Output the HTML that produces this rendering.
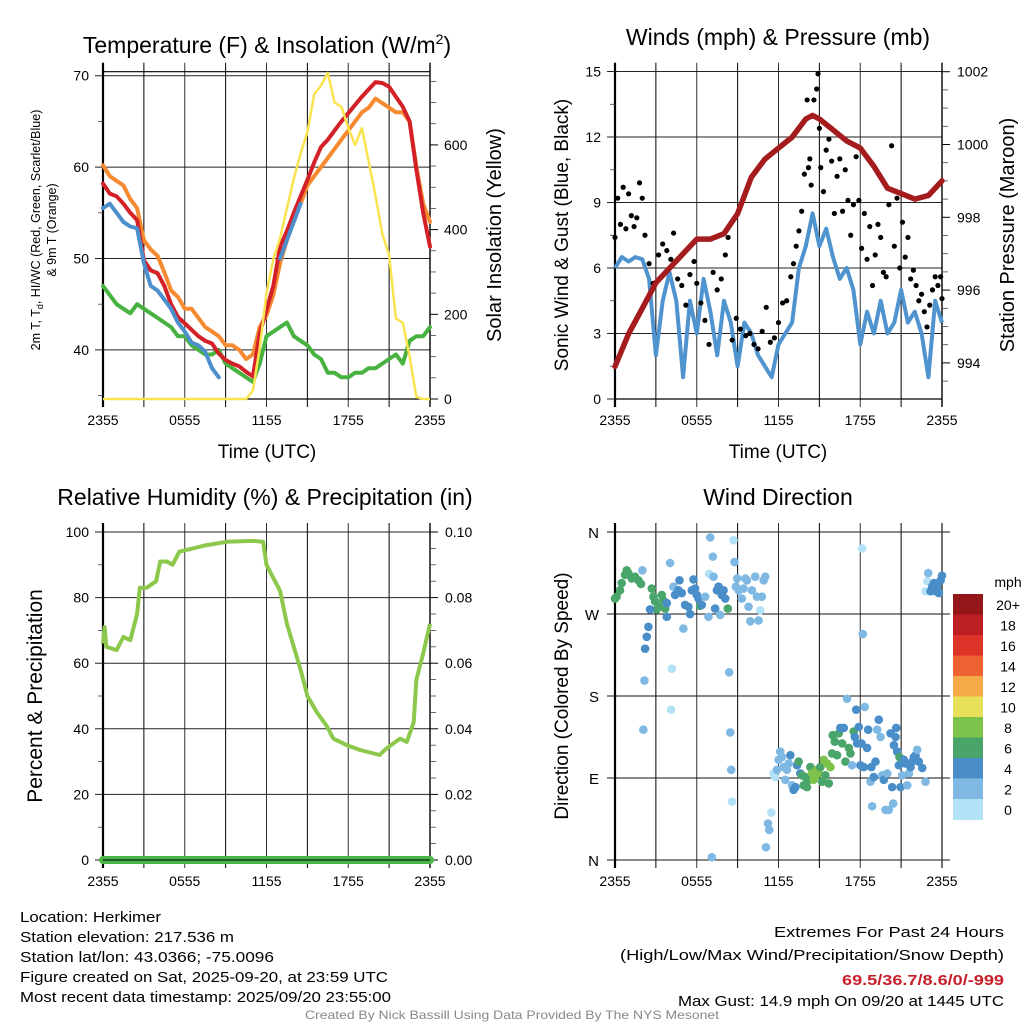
<!DOCTYPE html>
<html><head><meta charset="utf-8"><style>
html,body{margin:0;padding:0;background:#fff;}
svg{display:block;font-family:"Liberation Sans",sans-serif;}
</style></head><body>
<svg id="fig" width="1024" height="1024" viewBox="0 0 1024 1024" xmlns="http://www.w3.org/2000/svg">
<rect width="1024" height="1024" fill="#fff"/>
<g id="p1"></g>
<g id="p2"></g>
<g id="p3"></g>
<g id="p4"></g>
<g font-family="Liberation Sans Narrow, Liberation Sans, sans-serif" font-size="15" fill="#000">
<text x="20" y="922" textLength="141" lengthAdjust="spacingAndGlyphs">Location: Herkimer</text>
<text x="20" y="942" textLength="214" lengthAdjust="spacingAndGlyphs">Station elevation: 217.536 m</text>
<text x="20" y="962" textLength="254" lengthAdjust="spacingAndGlyphs">Station lat/lon: 43.0366; -75.0096</text>
<text x="20" y="982" textLength="368" lengthAdjust="spacingAndGlyphs">Figure created on Sat, 2025-09-20, at 23:59 UTC</text>
<text x="20" y="1002" textLength="371" lengthAdjust="spacingAndGlyphs">Most recent data timestamp: 2025/09/20 23:55:00</text>
</g>
<g font-family="Liberation Sans Narrow, Liberation Sans, sans-serif" font-size="15" text-anchor="end">
<text x="1004" y="937" textLength="230" lengthAdjust="spacingAndGlyphs">Extremes For Past 24 Hours</text>
<text x="1004" y="960" textLength="384" lengthAdjust="spacingAndGlyphs">(High/Low/Max Wind/Precipitation/Snow Depth)</text>
<text x="1004" y="985" fill="#c8202a" font-weight="bold" textLength="162" lengthAdjust="spacingAndGlyphs">69.5/36.7/8.6/0/-999</text>
<text x="1004" y="1006" textLength="326" lengthAdjust="spacingAndGlyphs">Max Gust: 14.9 mph On 09/20 at 1445 UTC</text>
</g>
<text x="512" y="1019" text-anchor="middle" font-family="Liberation Sans Narrow, Liberation Sans, sans-serif" font-size="12" fill="#888" textLength="414" lengthAdjust="spacingAndGlyphs">Created By Nick Bassill Using Data Provided By The NYS Mesonet</text>
</svg>
<script>
// ---------- DATA ----------
const xTickLabels = ["2355","0555","1155","1755","2355"];
const halfHours = [0,0.5,1,1.5,2,2.5,3,3.5,4,4.5,5,5.5,6,6.5,7,7.5,8,8.5,9,9.5,10,10.5,11,11.5,12,12.5,13,13.5,14,14.5,15,15.5,16,16.5,17,17.5,18,18.5,19,19.5,20,20.5,21,21.5,22,22.5,23,23.5,24];
const temp2m = [58.2,57.1,56.8,56,55,54.2,49.8,48.7,48.4,47,45,43.6,42.9,42.2,41.5,41,40.7,39.6,38.9,38.5,38.2,37.6,37.1,41.8,44.4,47,51.3,53,55,56.8,58.6,60.5,62.2,63,64,65,65.9,66.8,67.7,68.5,69.3,69.2,68.8,67.7,66.6,65,59.7,55,51.3];
const temp9m = [60.2,59,58.5,58,56.5,55.5,52,51,50.3,48.5,46.5,45.8,44.5,44.5,43.5,42.5,42,41.5,40.5,40.5,40,39,39.5,42.5,43.8,46,49.5,52,54.5,56,58,59,60,61,62,63,64,65,66,66.5,67.5,67,66.5,66,66,65,60,56,54];
const windChill = [55.5,56,55,54,53.5,53.3,49.5,47,46.5,45.5,44.5,43,42,40.8,40.5,39.8,38,37,null,37,null,null,35.5,null,null,null,50,52,54,56,null,null,null,null,null,null,null,null,null,null,null,null,null,null,null,null,null,null,null];
const dewPoint = [47,46,45,44.5,44,45,44.5,44,43.5,43,42.5,41.5,41.5,40.5,40,39.5,39.5,40,38.5,38,37.5,37,36.5,38.5,41.5,42,42.5,43,41.5,41,40.5,39.5,39,37.5,37.5,37,37,37.5,37.5,38,38,38.5,39,39.5,38.5,41,41.5,41.5,42.5];
const solar = [0,0,0,0,0,0,0,0,0,0,0,0,0,0,0,0,0,0,0,0,0,0,20,120,250,330,380,450,520,580,630,720,740,770,700,690,640,600,640,560,480,390,340,190,180,100,5,0,0];
const tempTicks = [40,50,60,70];
const solarTicks = [0,200,400,600];

const windSpeed = [6.0,6.5,6.3,6.5,6.4,5.5,2.0,4.5,5.8,4.5,1.0,4.5,3.0,5.5,4.0,2.0,4.5,3.5,1.5,3.5,3.0,2.0,1.5,1.0,2.5,3.0,3.5,6.0,7.0,8.5,7.0,7.8,6.5,5.5,6.0,5.0,2.5,4.0,3.0,4.5,3.0,3.5,5.0,3.5,4.0,3.0,1.0,4.5,3.5];
const gustTimes = [0,0.2,0.4,0.6,0.8,1.0,1.2,1.4,1.6,1.8,2.0,2.2,2.5,2.8,3.2,3.5,3.8,4.1,4.3,4.6,4.9,5.2,5.5,5.8,6.0,6.3,6.6,6.9,7.2,7.5,7.8,8.1,8.3,8.6,8.9,9.2,9.6,9.9,10.2,10.5,10.8,11.1,11.4,11.7,12.0,12.3,12.6,12.9,13.1,13.3,13.5,13.7,13.9,14.1,14.2,14.3,14.4,14.6,14.8,14.9,15.0,15.1,15.3,15.5,15.7,15.9,16.1,16.3,16.5,16.7,16.9,17.1,17.3,17.5,17.7,17.9,18.1,18.3,18.5,18.7,18.9,19.1,19.3,19.5,19.7,19.9,20.1,20.3,20.5,20.7,20.9,21.1,21.3,21.5,21.7,21.9,22.1,22.3,22.5,22.7,22.9,23.1,23.3,23.5,23.7,23.9,24.0];
const gustSpeed = [7.4,9.2,8.0,9.7,7.8,9.4,8.4,7.9,8.3,9.9,9.2,7.5,6.2,5.3,6.6,7.1,6.8,6.4,7.6,5.5,5.2,4.3,5.7,6.3,5.3,4.4,3.6,2.5,5.8,5.0,5.5,6.6,7.4,2.7,3.7,3.2,2.9,3.0,2.5,2.3,3.1,4.2,2.6,2.8,3.5,4.4,4.5,5.6,6.2,7.0,7.7,8.6,10.3,13.7,10.6,11.0,9.8,13.7,14.2,14.9,12.4,10.6,9.5,11.4,11.9,10.9,8.5,10.2,11.0,8.6,10.5,9.1,7.5,8.9,11.1,9.1,6.9,8.5,6.4,7.9,5.2,6.6,8.0,7.4,5.8,5.6,8.9,11.6,7.0,9.2,6.0,8.1,6.5,7.4,5.5,5.9,5.2,4.5,4.8,4.0,3.3,4.3,5.0,5.6,5.2,5.6,4.6];
const pressHours = [0,1,2,3,4,5,6,7,8,9,10,11,12,13,14,14.5,15,16,17,18,19,20,21,22,23,24];
const pressure = [993.9,994.8,995.5,996.2,996.6,997.0,997.4,997.4,997.55,998.1,999.1,999.6,999.9,1000.2,1000.7,1000.8,1000.7,1000.4,1000.1,999.9,999.4,998.8,998.65,998.5,998.6,999.0];
const windTicks = [0,3,6,9,12,15];
const pressTicks = [994,996,998,1000,1002];

const rhHours = [0,0.12,0.25,1,1.5,2,2.5,2.7,3.2,3.9,4.2,4.7,5.1,5.6,6.6,7.6,9.1,11.0,11.75,12.0,13.0,13.5,14.0,14.5,15.0,15.7,16.4,16.9,17.9,18.9,20.3,20.8,21.8,22.3,22.8,23.0,23.5,24];
const rh = [66,71,65,64,68,67,75,83,83,85,91,91,90,94,95,96,97,97.3,97,90,82,72,65,58,50,45,41,37,35,33.5,32,34,37,36,42,55,63,72];
const precipHours = [0,24];
const precip = [0,0];
const rhTicks = [0,20,40,60,80,100];
const precipTicks = ["0.00","0.02","0.04","0.06","0.08","0.10"];

const dirHours = [0,0.12,0.37,0.49,0.74,0.86,0.98,1.23,1.47,1.72,1.91,2.01,2.7,2.82,2.94,3.06,3.19,3.43,3.55,3.68,2.57,2.45,2.33,2.21,2.16,2.08,4.04,4.17,4.12,3.8,3.8,4.29,4.41,4.66,4.73,4.9,5.02,5.15,5.39,5.51,5.64,5.76,5.88,6.0,6.13,6.25,6.37,6.62,6.86,6.91,6.99,7.11,7.18,7.23,7.35,7.48,7.6,7.72,7.84,7.97,8.09,8.28,8.38,8.46,8.53,8.58,8.7,8.77,8.87,8.97,9.07,9.31,9.44,9.56,9.68,9.8,9.93,10.05,10.29,10.42,10.54,10.66,10.78,10.91,11.03,11.08,11.23,11.32,11.47,11.64,11.76,11.89,12.01,12.13,12.25,12.38,12.5,12.62,12.75,12.87,12.99,13.11,13.24,13.36,13.48,13.6,13.73,13.85,13.97,14.09,14.22,14.34,14.46,14.58,14.71,14.83,14.95,15.07,15.2,15.32,15.44,15.56,15.69,15.81,15.93,15.98,16.13,16.3,16.42,16.54,16.67,16.79,16.91,17.03,17.16,17.28,17.4,17.52,17.6,17.7,17.77,17.89,18.01,18.09,18.14,18.19,18.26,18.33,18.5,18.58,18.75,18.82,18.87,18.99,19.12,19.24,19.36,19.49,19.61,19.73,19.85,19.98,20.1,20.22,20.34,20.42,20.47,20.59,20.64,20.71,20.83,20.88,20.96,21.08,21.2,21.32,21.45,21.57,21.69,21.81,21.94,22.06,22.18,22.3,22.55,22.79,22.79,22.92,22.99,23.16,23.28,23.41,23.53,23.65,23.77,23.9,24.0];
const dirDeg = [287,289,296,304,313,318,315,309,311,307,303,318,298,289,284,275,278,291,285,276,275,256,245,232,197,143,326,210,165,282,267,300,291,296,307,293,254,280,278,270,296,308,298,291,287,279,280,289,267,314,354,3,333,311,276,296,300,269,291,296,287,276,206,140,99,64,351,327,300,309,296,287,298,309,307,278,262,296,311,289,263,274,289,307,311,14,40,33,52,95,91,99,110,119,113,102,88,99,106,115,82,77,80,104,108,95,93,82,91,80,88,102,95,88,93,99,95,102,86,110,93,106,84,102,117,137,130,115,139,145,128,145,108,177,123,117,104,141,135,165,128,146,104,128,342,248,102,168,123,143,86,102,59,91,108,143,154,135,93,88,55,95,55,139,80,62,126,135,145,119,104,113,80,93,110,106,82,95,102,108,113,115,121,108,101,86,295,306,315,295,300,304,295,300,293,307,312];
const dirSpeed = [7,7,7,7,7,7,7,7,7,7,7,3,7,7,7,7,7,7,7,7,5,5,5,5,3,3,3,1,1,5,5,3,5,5,5,5,3,5,5,5,5,5,5,5,5,7,5,3,3,1,3,3,3,3,5,5,5,3,5,5,5,7,3,3,3,1,1,3,3,3,3,3,3,3,3,3,3,3,3,3,3,1,3,3,3,3,3,3,1,1,1,3,3,3,3,3,3,3,3,5,3,5,5,5,7,5,7,7,7,7,7,7,9,9,9,9,9,7,7,9,7,9,7,9,7,7,7,7,7,5,7,5,7,3,7,7,3,7,5,5,5,5,5,5,1,3,5,3,5,5,3,5,3,5,5,3,5,3,3,5,3,3,3,5,5,3,5,5,5,5,5,7,5,3,5,5,3,3,5,5,5,5,3,5,5,3,1,1,3,5,5,5,5,5,5,5,5];
const dirTickLabels = ["N","E","S","W","N"];
const speedBins = ["0","2","4","6","8","10","12","14","16","18","20+"];
const speedColors = ["#b3e2f7","#7fb9e3","#4a8ec9","#4aa56a","#7dc24a","#e6e05a","#f5a947","#ee6130","#dd3429","#bd1e24","#931619"];

// ---------- HELPERS ----------
const NS = "http://www.w3.org/2000/svg";
function mk(parent, tag, attrs, txt){
  const e = document.createElementNS(NS, tag);
  for (const k in attrs) e.setAttribute(k, attrs[k]);
  if (txt !== undefined) e.textContent = txt;
  parent.appendChild(e);
  return e;
}
function pathFrom(xsArr, ysArr, fx, fy){
  let d = "", pen = false;
  for (let i=0;i<xsArr.length;i++){
    const v = ysArr[i];
    if (v === null || v === undefined){ pen=false; continue; }
    d += (pen?"L":"M") + fx(xsArr[i]).toFixed(1) + "," + fy(v).toFixed(1);
    pen = true;
  }
  return d;
}
const W = 327, X0L = 103, X0R = 615;
function frame(g, x0, yTop, yBot, hTicks, fy){
  // vertical grid every 3 hours
  for (let h=0; h<=24; h+=3){
    const x = x0 + h*W/24;
    const l = mk(g,"line",{x1:x,x2:x,y1:yTop-9,y2:yBot+8,stroke:(h%6===0?"#333":"#000"),"stroke-width":1});
    
    
  }
  hTicks.forEach(v=>{
    const y = fy(v);
    const l = mk(g,"line",{x1:x0-8,x2:x0+W,y1:y,y2:y,stroke:"#222","stroke-width":1});
    
    
  });
  mk(g,"line",{x1:x0,x2:x0,y1:yTop-9,y2:yBot+8,stroke:"#000","stroke-width":2.2});
  mk(g,"line",{x1:x0+W,x2:x0+W,y1:yTop-9,y2:yBot+8,stroke:"#000","stroke-width":1.4});
  mk(g,"line",{x1:x0,x2:x0+W,y1:yBot,y2:yBot,stroke:"#000","stroke-width":1.2});
  xTickLabels.forEach((lab,i)=>{
    const t = mk(g,"text",{x:x0+i*6*W/24,y:yBot+26,"text-anchor":"middle","font-size":14},lab);
    
    
  });
}
function title(g, x, y, txt, size){
  const t = mk(g,"text",{x:x,y:y,"text-anchor":"middle","font-size":size||23});
  t.innerHTML = txt;
  
  
  return t;
}
function vlabel(g, x, y, txt, size){
  const t = mk(g,"text",{x:0,y:0,"text-anchor":"middle","font-size":size||19,transform:`translate(${x},${y}) rotate(-90)`});
  t.innerHTML = txt;
  
  
  return t;
}
function rightMinor(g, x0, vals, fy){
  vals.forEach(v=>{ mk(g,"line",{x1:x0+W,x2:x0+W+6,y1:fy(v),y2:fy(v),stroke:"#444","stroke-width":0.8}); });
}

// ---------- PANEL 1 ----------
(function(){
  const g = document.getElementById("p1");
  const fx = t => X0L + t*W/24;
  const fy = v => 75.7 + (70 - v)*9.14;
  const fs = v => 399 - v*0.4235;
  const yTop = 71.7, yBot = 399;
  frame(g, X0L, yTop, yBot, tempTicks, fy);
  mk(g,"line",{x1:X0L,x2:X0L+W,y1:yTop,y2:yTop,stroke:"#000","stroke-width":1.2});
  const minors=[]; for(let v=50; v<=750; v+=50) if (v%200) minors.push(v);
  rightMinor(g, X0L, minors, fs);
  solarTicks.forEach(v=>{
    mk(g,"line",{x1:X0L+W,x2:X0L+W+8,y1:fs(v),y2:fs(v),stroke:"#000","stroke-width":1});
    const t=mk(g,"text",{x:X0L+W+14,y:fs(v)+5,"font-size":14},String(v));
     
  });
  tempTicks.forEach(v=>{
    const t=mk(g,"text",{x:X0L-14,y:fy(v)+5,"text-anchor":"end","font-size":14},String(v));
     
  });
  [35,45,55,65].forEach(v=>mk(g,"line",{x1:X0L-5,x2:X0L,y1:fy(v),y2:fy(v),stroke:"#444","stroke-width":0.8}));
  const series = [["dewpoint-line",dewPoint,"#47b23f",4],["temp-9m-line",temp9m,"#f58a30",4],["temp-2m-line",temp2m,"#d42127",4],["windchill-line",windChill,"#4d8fcc",4]];
  series.forEach(s=>{
    const p = mk(g,"path",{d:pathFrom(halfHours,s[1],fx,fy),fill:"none",stroke:s[2],"stroke-width":s[3],"stroke-linejoin":"round","stroke-linecap":"round"});
    
    
  });
  const sp = mk(g,"path",{d:pathFrom(halfHours,solar,fx,fs),fill:"none",stroke:"#fbe34f","stroke-width":2.5,"stroke-linejoin":"round"});
  
  
  title(g, 267, 53, 'Temperature (F) &amp; Insolation (W/m<tspan font-size="14" dy="-9">2</tspan><tspan dy="9">)</tspan>', 23);
  mk(g,"text",{x:267,y:458,"text-anchor":"middle","font-size":19},"Time (UTC)");
  const yl = mk(g,"text",{x:0,y:0,"text-anchor":"middle","font-size":12.5,transform:"translate(40,230) rotate(-90)"});
  yl.innerHTML = '2m T, T<tspan font-size="9" dy="3">d</tspan><tspan dy="-3">, HI/WC (Red, Green, Scarlet/Blue)</tspan>';
   
  const yl2 = mk(g,"text",{x:0,y:0,"text-anchor":"middle","font-size":12.5,transform:"translate(56,230) rotate(-90)"},"& 9m T (Orange)");
   
  vlabel(g, 501, 235, "Solar Insolation (Yellow)", 20);
})();

// ---------- PANEL 2 ----------
(function(){
  const g = document.getElementById("p2");
  const fx = t => X0R + t*W/24;
  const fy = v => 399 - v*21.83;
  const fp = v => 71.7 + (1002 - v)*36.4;
  const yTop = 71.7, yBot = 399;
  frame(g, X0R, yTop, yBot, windTicks, fy);
  const minors=[]; for(let v=993.5; v<=1001.6; v+=0.5) if (Math.abs(v-Math.round(v))>0.1 || Math.round(v)%2) minors.push(v);
  rightMinor(g, X0R, minors, fp);
  pressTicks.forEach(v=>{
    mk(g,"line",{x1:X0R+W,x2:X0R+W+8,y1:fp(v),y2:fp(v),stroke:"#000","stroke-width":1});
    const t=mk(g,"text",{x:X0R+W+15,y:fp(v)+5,"font-size":14},String(v));
     
  });
  windTicks.forEach(v=>{
    const t=mk(g,"text",{x:X0R-14,y:fy(v)+5,"text-anchor":"end","font-size":14},String(v));
     
  });
  [1.5,4.5,7.5,10.5,13.5].forEach(v=>mk(g,"line",{x1:X0R-5,x2:X0R,y1:fy(v),y2:fy(v),stroke:"#444","stroke-width":0.8}));
  const wp = mk(g,"path",{d:pathFrom(halfHours,windSpeed,fx,fy),fill:"none",stroke:"#4f93cf","stroke-width":4,"stroke-linejoin":"round"});
  
  
  gustTimes.forEach((t,i)=>{
    const c = mk(g,"circle",{cx:fx(t),cy:fy(gustSpeed[i]),r:2.6,fill:"#000"});
    
    
  });
  const pp = mk(g,"path",{d:pathFrom(pressHours,pressure,fx,fp),fill:"none",stroke:"#a51c1f","stroke-width":5.5,"stroke-linejoin":"round","stroke-linecap":"round"});
  
  
  title(g, 778, 45, "Winds (mph) &amp; Pressure (mb)", 23);
  mk(g,"text",{x:778,y:458,"text-anchor":"middle","font-size":19},"Time (UTC)");
  vlabel(g, 568, 235, "Sonic Wind &amp; Gust (Blue, Black)", 19);
  vlabel(g, 1014, 235, "Station Pressure (Maroon)", 20);
})();

// ---------- PANEL 3 ----------
(function(){
  const g = document.getElementById("p3");
  const fx = t => X0L + t*W/24;
  const fy = v => 860 - v*3.28;
  const yTop = 532, yBot = 860;
  frame(g, X0L, yTop, yBot, rhTicks, fy);
  const minors=[]; for(let v=5; v<100; v+=5) if (v%20) minors.push(v);
  rightMinor(g, X0L, minors, fy);
  [10,30,50,70,90].forEach(v=>mk(g,"line",{x1:X0L-5,x2:X0L,y1:fy(v),y2:fy(v),stroke:"#444","stroke-width":0.8}));
  rhTicks.forEach((v,i)=>{
    mk(g,"line",{x1:X0L+W,x2:X0L+W+8,y1:fy(v),y2:fy(v),stroke:"#000","stroke-width":1});
    const t=mk(g,"text",{x:X0L-14,y:fy(v)+5,"text-anchor":"end","font-size":14},String(v));
     
    const r=mk(g,"text",{x:X0L+W+15,y:fy(v)+5,"font-size":14},precipTicks[i]);
     
  });
  const rp = mk(g,"path",{d:pathFrom(rhHours,rh,fx,fy),fill:"none",stroke:"#8cc84b","stroke-width":4,"stroke-linejoin":"round"});
  
  
  const fpr = v => 860 - v*3280;
  const pl = mk(g,"path",{d:pathFrom(precipHours,precip,fx,fpr),fill:"none",stroke:"#4ab548","stroke-width":8,"stroke-linecap":"round"});
  
  
  mk(g,"line",{x1:X0L,x2:X0L+W,y1:yBot,y2:yBot,stroke:"#000","stroke-width":1});
  title(g, 265, 505, "Relative Humidity (%) &amp; Precipitation (in)", 23);
  vlabel(g, 42, 696, "Percent &amp; Precipitation", 21);
})();

// ---------- PANEL 4 ----------
(function(){
  const g = document.getElementById("p4");
  const fx = t => X0R + t*W/24;
  const fy = d => 860 - d*0.911;
  const yTop = 532, yBot = 860;
  const dt = [0,90,180,270,360];
  for (let h=0; h<=24; h+=3){
    const x = fx(h);
    const l = mk(g,"line",{x1:x,x2:x,y1:yTop-9,y2:yBot+8,stroke:(h%6===0?"#333":"#000"),"stroke-width":1});
     
  }
  dt.forEach((d,i)=>{
    const l = mk(g,"line",{x1:X0R-8,x2:X0R+W+8,y1:fy(d),y2:fy(d),stroke:"#111","stroke-width":1});
     
    const t = mk(g,"text",{x:X0R-16,y:fy(d)+6,"text-anchor":"end","font-size":15},dirTickLabels[i]);
     
  });
  mk(g,"line",{x1:X0R,x2:X0R,y1:yTop-9,y2:yBot+8,stroke:"#000","stroke-width":2.2});
  mk(g,"line",{x1:X0R+W,x2:X0R+W,y1:yTop-9,y2:yBot+8,stroke:"#333","stroke-width":1.4});
  xTickLabels.forEach((lab,i)=>{
    const t = mk(g,"text",{x:X0R+i*6*W/24,y:yBot+26,"text-anchor":"middle","font-size":14},lab);
     
  });
  dirHours.forEach((t,i)=>{
    const bin = Math.min(10, Math.floor(dirSpeed[i]/2));
    const c = mk(g,"circle",{cx:fx(t),cy:fy(dirDeg[i]),r:4.3,fill:speedColors[bin]});
    
    
  });
  // colorbar
  const cbx = 953, cbTop = 594, binH = 20.5;
  speedBins.forEach((lab,i)=>{
    const k = speedBins.length-1-i;
    const r = mk(g,"rect",{x:cbx,y:cbTop+i*binH,width:30,height:binH+0.5,fill:speedColors[k]});
    
    
    const t = mk(g,"text",{x:1008,y:cbTop+i*binH+16,"text-anchor":"middle","font-size":14},speedBins[k]);
     
  });
  mk(g,"text",{x:1008,y:587,"text-anchor":"middle","font-size":14},"mph");
  title(g, 778, 505, "Wind Direction", 23);
  vlabel(g, 568, 696, "Direction (Colored By Speed)", 19);
})();
</script>
</body></html>
